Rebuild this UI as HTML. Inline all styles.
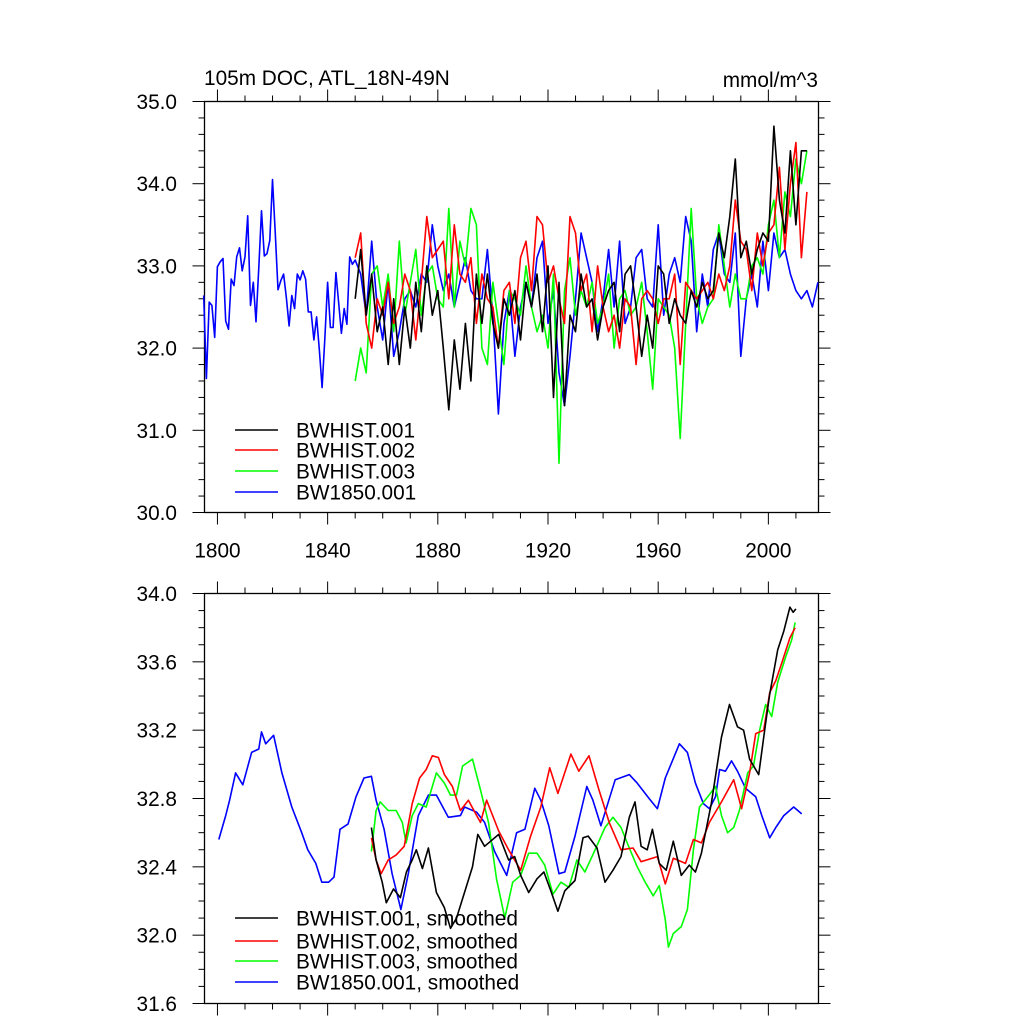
<!DOCTYPE html>
<html><head><meta charset="utf-8"><style>
html,body{margin:0;padding:0;background:#fff}
svg{display:block}
text{font-family:"Liberation Sans",sans-serif;fill:#000}
</style></head><body>
<svg id="chart" width="1024" height="1024" viewBox="0 0 1024 1024" xmlns="http://www.w3.org/2000/svg">
<text x="204" y="85" font-size="20.8">105m DOC, ATL_18N-49N</text>
<text x="818" y="87" font-size="20.8" text-anchor="end">mmol/m^3</text>
<g id="top"></g>
<g id="bot"></g>
</svg>
<script>
// ---- top panel data (annual / biennial raw values) ----
const blueEarlyVals = [32.64,31.63,32.56,32.52,32.13,32.99,33.05,33.09,32.33,32.23,32.84,32.76,33.11,33.22,32.94,33.11,33.61,32.52,32.8,32.32,32.98,33.67,33.12,33.15,33.31,34.05,33.39,32.71,32.82,32.9,32.62,32.27,32.64,32.48,32.9,32.83,32.94,32.84,32.44,32.44,32.1,32.38,31.97,31.52,32.13,32.8,32.25,32.25,32.92,32.56,32.18,32.48,32.29,33.11,33.02,33.07];
const blueLateVals = [32.9,32.4,33.3,32.5,32.1,32.8,31.9,32.2,32.6,32.7,32.5,32.9,32.8,33.5,33.0,32.7,32.9,32.5,32.8,33.1,32.7,32.6,32.6,33.2,32.4,31.2,32.3,32.7,31.9,32.5,32.8,32.5,33.1,33.3,32.3,32.7,31.7,31.3,31.9,32.6,33.4,33.1,32.8,32.2,32.6,33.2,32.5,33.3,32.3,32.5,33.1,33.2,32.6,32.5,33.5,32.4,32.9,33.1,32.8,33.6,33.3,32.2,32.9,32.5,33.2,33.4,32.9,32.8,33.4,31.9,32.6,32.9,32.5,33.3,32.7,33.4,33.1,33.2,32.9,32.7,32.6,32.7,32.5,32.8];
const hist1Vals = [32.6,33.2,32.4,32.9,32.2,32.5,31.8,32.6,31.8,32.5,32.0,32.8,32.2,33.0,32.4,32.7,32.0,31.25,32.1,31.5,32.3,31.6,32.9,32.3,32.9,32.3,32.0,32.6,32.4,32.7,32.1,32.8,32.5,32.9,32.2,33.0,31.4,32.8,31.3,32.4,32.2,32.9,32.5,32.6,32.1,32.5,32.7,32.8,32.2,32.9,33.0,32.5,31.9,32.4,32.0,33.0,32.9,32.3,32.6,32.4,32.3,32.7,32.5,32.8,32.6,32.7,33.4,33.1,33.6,34.3,33.1,33.3,32.9,33.2,33.4,33.3,34.7,33.8,33.4,34.4,33.5,34.4,34.4];
const hist2Vals = [33.1,33.4,32.3,32.0,32.6,32.4,32.8,32.3,32.5,32.9,32.7,32.1,32.8,33.6,33.1,33.2,33.3,32.6,33.5,32.9,32.8,33.1,32.3,32.9,32.6,32.5,32.0,32.7,32.8,32.3,33.1,33.3,32.7,33.6,33.5,32.8,33.0,32.6,32.3,33.6,33.4,32.7,32.9,32.2,33.0,32.5,32.2,32.4,32.0,32.6,32.5,31.8,32.6,32.7,32.6,32.3,32.6,32.6,32.9,31.8,32.8,32.7,32.6,32.7,32.8,32.6,32.9,32.7,33.0,33.8,33.3,33.2,32.7,33.4,33.0,33.4,33.5,34.2,33.2,34.0,34.5,33.1,33.9];
const hist3Vals = [31.6,32.0,31.7,32.9,33.0,32.5,32.9,32.2,33.3,32.4,32.8,33.2,32.4,32.9,33.0,32.6,32.5,33.7,32.5,33.3,33.0,33.7,33.5,32.0,31.8,32.8,32.3,31.8,32.7,32.6,32.4,33.0,32.5,32.2,32.4,32.0,32.9,30.6,32.7,33.1,32.4,32.7,32.5,32.8,32.3,32.5,32.9,32.0,32.6,32.7,32.4,32.5,32.8,32.2,31.5,32.6,32.5,32.4,32.0,30.9,32.3,33.7,32.6,32.3,32.5,32.6,33.5,33.0,32.5,32.9,32.6,32.6,33.0,33.1,32.9,33.5,33.8,33.1,33.9,33.6,34.3,34.0,34.4];
const topYTicks = ["30.0","31.0","32.0","33.0","34.0","35.0"];
const xTickLabels = ["1800","1840","1880","1920","1960","2000"];
const topLegend = ["BWHIST.001","BWHIST.002","BWHIST.003","BW1850.001"];

// ---- bottom panel data (smoothed) ----
const sBlueYears = [1800.5,1803,1804.4,1806.6,1809.2,1812.4,1815,1816,1817.5,1820.4,1823.4,1827,1830.6,1832.8,1835.7,1837.9,1840.4,1842.3,1844.5,1847.4,1850.3,1853.2,1855.9,1857.6,1860.5,1863.4,1866.6,1869.3,1872.9,1876.6,1879.5,1883.8,1888.2,1889.7,1894.1,1897,1900.6,1905,1908.6,1911.6,1915.2,1917.4,1920.3,1924,1926.1,1929.8,1934.1,1936.3,1939.2,1944.4,1949.5,1952.4,1956.7,1959.7,1962.6,1967.7,1970.6,1973.5,1976.4,1978.6,1980.8,1982.3,1984.4,1986.6,1988.8,1991.7,1995.4,1997.6,2000.5,2002.7,2005.6,2009.2,2012.1];
const sBlueVals = [32.56,32.70,32.79,32.95,32.88,33.07,33.09,33.19,33.12,33.17,32.95,32.75,32.6,32.5,32.42,32.31,32.31,32.34,32.62,32.65,32.81,32.92,32.93,32.79,32.62,32.36,32.15,32.36,32.70,32.82,32.82,32.69,32.70,32.75,32.72,32.66,32.49,32.35,32.60,32.62,32.86,32.79,32.64,32.36,32.37,32.58,32.87,32.79,32.64,32.91,32.94,32.89,32.80,32.74,32.92,33.12,33.07,32.89,32.77,32.74,32.81,32.97,32.96,33.02,32.96,32.86,32.81,32.70,32.57,32.63,32.70,32.75,32.71];
const sH1Years = [1855.9,1857.6,1859.8,1861.3,1863.9,1866.4,1868.6,1870.7,1872.2,1874.4,1876.6,1879.5,1882.4,1884.6,1886.8,1889.7,1892.6,1894.5,1897,1902.1,1905.7,1907.9,1910.1,1913,1916,1918.5,1921,1923.6,1926.1,1929.8,1932.7,1934.6,1937.8,1940.7,1943.6,1946.5,1949.5,1951.6,1953.8,1956,1957.9,1960.4,1962.9,1965.5,1968.4,1971.3,1973.5,1975.7,1979.3,1983,1985.9,1988.8,1991,1993.2,1996.5,1999,2000.5,2003.4,2005.6,2007.8,2009,2010];
const sH1Vals = [32.63,32.44,32.31,32.19,32.27,32.22,32.37,32.44,32.50,32.39,32.51,32.25,32.16,32.04,32.10,32.25,32.40,32.59,32.52,32.59,32.44,32.46,32.35,32.25,32.33,32.37,32.26,32.14,32.26,32.32,32.57,32.58,32.51,32.31,32.38,32.46,32.69,32.78,32.52,32.50,32.62,32.42,32.38,32.55,32.35,32.41,32.37,32.48,32.77,33.16,33.35,33.22,33.20,33.03,32.94,33.24,33.41,33.67,33.78,33.92,33.89,33.91];
const sH2Years = [1855.9,1857.6,1859.4,1862,1864.9,1867.8,1870.7,1873.4,1875.8,1878,1880.2,1882.4,1885.3,1888.2,1891.1,1894.1,1895.5,1897.7,1902.1,1905.7,1910.1,1913.7,1917.4,1920.6,1923.6,1928.3,1931.2,1934.9,1938.5,1942.2,1946.5,1950.9,1953.8,1959.7,1962.6,1965.5,1969.9,1972.8,1975.7,1978.6,1983,1987.4,1990.3,1993.2,1995.4,1998.3,2000.5,2002.7,2004.8,2007.8,2009.7];
const sH2Vals = [32.57,32.44,32.36,32.44,32.47,32.52,32.77,32.92,32.97,33.05,33.04,32.94,32.87,32.73,32.79,32.70,32.66,32.79,32.61,32.50,32.38,32.58,32.75,32.98,32.83,33.06,32.96,33.05,32.85,32.66,32.50,32.51,32.43,32.46,32.30,32.45,32.42,32.56,32.54,32.66,32.78,32.91,32.74,32.95,33.18,33.20,33.42,33.49,33.59,33.74,33.80];
const sH3Years = [1855.9,1857.6,1859.1,1862,1864.9,1867.1,1868.5,1870.7,1872.9,1875.8,1879.5,1882.4,1884.6,1886.8,1889,1892.6,1895.5,1898.4,1901.3,1904.3,1907.2,1910.1,1913,1916,1918.8,1921.8,1924.7,1927.6,1930.5,1933.4,1937.1,1940.7,1943.6,1946.5,1949.5,1952.4,1955.3,1958.2,1960.4,1962.6,1963.7,1965.5,1968.4,1970.6,1972.8,1975,1978,1980.8,1983,1985.2,1987.4,1989.5,1992.5,1994.6,1996.8,1999,2001.2,2003.4,2006.3,2008.5,2009.7];
const sH3Vals = [32.49,32.73,32.78,32.73,32.73,32.66,32.54,32.70,32.77,32.75,32.95,32.89,32.82,32.82,32.99,33.03,32.85,32.66,32.33,32.10,32.31,32.35,32.48,32.48,32.41,32.24,32.31,32.28,32.44,32.37,32.50,32.63,32.69,32.63,32.51,32.40,32.31,32.23,32.29,32.09,31.93,32.01,32.05,32.15,32.50,32.75,32.81,32.87,32.70,32.60,32.63,32.73,32.95,32.99,33.20,33.35,33.28,33.48,33.63,33.73,33.83];
const botYTicks = ["31.6","32.0","32.4","32.8","33.2","33.6","34.0"];
const botLegend = ["BWHIST.001, smoothed","BWHIST.002, smoothed","BWHIST.003, smoothed","BW1850.001, smoothed"];

const colors = ["#000000","#ff0000","#00ff00","#0000ff"];
const NS = "http://www.w3.org/2000/svg";
const L = 204.5, R = 818.5, X0 = 1795.3, X1 = 2018.2;
const FS = 20.8;
function xs(yr){ return L + (yr - X0) / (X1 - X0) * (R - L); }
function mk(tag, attrs, parent){ const e = document.createElementNS(NS, tag); for (const k in attrs) e.setAttribute(k, attrs[k]); parent.appendChild(e); return e; }

function drawPanel(g, T, B, ymin, ymax, yticks, ystep, yminor, xLabels, legend, legendY, seriesList){
  const ys = v => B - (v - ymin) / (ymax - ymin) * (B - T);
  const frame = mk('rect', {x:L, y:T, width:R-L, height:B-T, fill:'none', stroke:'#000', 'stroke-width':1.3}, g);
  
  
  let n = Math.round((ymax - ymin) / yminor);
  for (let i = 0; i <= n; i++){
    const v = ymin + i * yminor, y = ys(v);
    const major = Math.abs(((v - ymin) / ystep) - Math.round((v - ymin) / ystep)) < 1e-6;
    const len = major ? 12 : 6;
    mk('line', {x1:L-len, y1:y, x2:L, y2:y, stroke:'#000', 'stroke-width':1}, g);
    mk('line', {x1:R, y1:y, x2:R+len, y2:y, stroke:'#000', 'stroke-width':1}, g);
  }
  yticks.forEach((lab, i) => {
    const t = mk('text', {x:177, y:ys(ymin + i*ystep)+7.5, 'font-size':FS, 'text-anchor':'end'}, g);
    t.textContent = lab;
    
    
  });
  for (let yr = 1800; yr <= 2010; yr += 10){
    const x = xs(yr), len = (yr % 40 === 0) ? 12 : 6;
    mk('line', {x1:x, y1:B, x2:x, y2:B+len, stroke:'#000', 'stroke-width':1}, g);
    mk('line', {x1:x, y1:T-len, x2:x, y2:T, stroke:'#000', 'stroke-width':1}, g);
  }
  if (xLabels) xLabels.forEach(lab => {
    const t = mk('text', {x:xs(+lab), y:B+45, 'font-size':FS, 'text-anchor':'middle'}, g);
    t.textContent = lab;
    
    
  });
  seriesList.forEach((s, si) => {
    const pts = s.years.map((yr, i) => xs(yr).toFixed(1) + ',' + ys(s.vals[i]).toFixed(1)).join(' ');
    const p = mk('polyline', {points:pts, fill:'none', stroke:colors[s.c], 'stroke-width':1.6, 'stroke-linejoin':'round'}, g);
    
    
  });
  legend.forEach((lab, i) => {
    const y = legendY[i];
    const ln = mk('line', {x1:235, y1:y, x2:278, y2:y, stroke:colors[i], 'stroke-width':1.6}, g);
    
    
    const t = mk('text', {x:296, y:y+7.5, 'font-size':FS}, g);
    t.textContent = lab;
    
    
  });
}

const earlyYears = blueEarlyVals.map((v, i) => 1795 + i);
const blueLateYears = blueLateVals.map((v, i) => 1852 + 2*i);
const histYears = hist1Vals.map((v, i) => 1850 + 2*i);
const topSeries = [
  {name:'series-bw1850-001', c:3, years:earlyYears.concat(blueLateYears), vals:blueEarlyVals.concat(blueLateVals)},
  {name:'series-bwhist-003', c:2, years:histYears, vals:hist3Vals},
  {name:'series-bwhist-002', c:1, years:histYears, vals:hist2Vals},
  {name:'series-bwhist-001', c:0, years:histYears, vals:hist1Vals}
];
drawPanel(document.getElementById('top'), 101.5, 512.5, 30, 35, topYTicks, 1, 0.2, xTickLabels, topLegend, [430,450,471,492], topSeries);

const botSeries = [
  {name:'smoothed-bw1850-001', c:3, years:sBlueYears, vals:sBlueVals},
  {name:'smoothed-bwhist-003', c:2, years:sH3Years, vals:sH3Vals},
  {name:'smoothed-bwhist-002', c:1, years:sH2Years, vals:sH2Vals},
  {name:'smoothed-bwhist-001', c:0, years:sH1Years, vals:sH1Vals}
];
drawPanel(document.getElementById('bot'), 593.5, 1003.5, 31.6, 34.0, botYTicks, 0.4, 0.1, null, botLegend, [918,941,961,982], botSeries);
</script>
</body></html>
